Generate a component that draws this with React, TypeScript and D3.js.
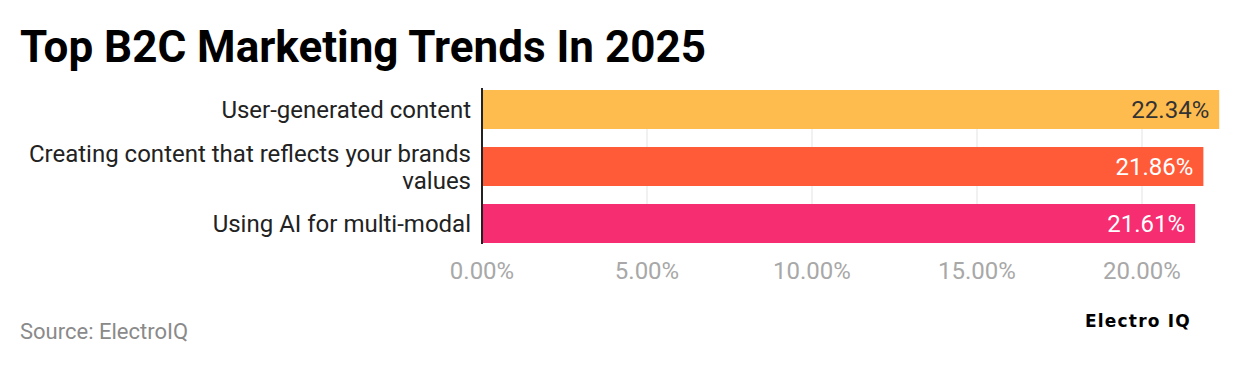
import React from 'react';
import * as d3 from 'd3';

const categories = [
  ['User-generated content'],
  ['Creating content that reflects your brands', 'values'],
  ['Using AI for multi-modal'],
];
const values = [22.34, 21.86, 21.61];
const colors = ['#FFBC4E', '#FF5B39', '#F62D71'];
const valueColors = ['#333333', '#ffffff', '#ffffff'];
const ticks = [0, 5, 10, 15, 20];

const W = 1240;
const H = 366;
const font = 'Roboto, "Noto Sans", sans-serif';

const App: React.FC = () => {
  const x = d3.scaleLinear().domain([0, 20]).range([482, 1142]);
  const y = d3
    .scaleBand<number>()
    .domain(d3.range(categories.length))
    .range([81, 252])
    .paddingInner(0.316)
    .paddingOuter(0.158);
  const bw = y.bandwidth();
  const top = y(0) as number;
  const bottom = (y(categories.length - 1) as number) + bw;

  return (
    <svg width={W} height={H} style={{ position: 'absolute', left: 0, top: 0, fontFamily: font }}>
      <rect width={W} height={H} fill="#fff" />
      <text x={20} y={62} fontSize={44} fontWeight={700} fill="#000">
        Top B2C Marketing Trends In 2025
      </text>

      {ticks.slice(1).map(t => (
        <line key={t} x1={x(t)} x2={x(t)} y1={top} y2={bottom} stroke="#e3e3e3" strokeWidth={1} />
      ))}

      {values.map((v, i) => {
        const by = y(i) as number;
        const lines = categories[i];
        return (
          <g key={i}>
            <rect x={x(0)} y={by} width={x(v) - x(0)} height={bw} fill={colors[i]} />
            <text
              x={x(v) - 10}
              y={by + bw / 2}
              dy="0.36em"
              textAnchor="end"
              fontSize={24}
              fill={valueColors[i]}
            >
              {v.toFixed(2)}%
            </text>
            {lines.map((l, j) => (
              <text
                key={j}
                x={471}
                y={by + bw / 2 + (j - (lines.length - 1) / 2) * 27}
                dy="0.36em"
                textAnchor="end"
                fontSize={24}
                fill="#222"
              >
                {l}
              </text>
            ))}
          </g>
        );
      })}

      <line x1={x(0)} x2={x(0)} y1={top - 2} y2={bottom + 1} stroke="#222" strokeWidth={2} />

      {ticks.map(t => (
        <text key={t} x={x(t)} y={279} textAnchor="middle" fontSize={24} fill="#a8a8a8">
          {t.toFixed(2)}%
        </text>
      ))}

      <text x={20} y={339} fontSize={22} fill="#8a8a8a">
        Source: ElectroIQ
      </text>
      <text
        x={1085}
        y={327}
        fontSize={17}
        fontWeight={700}
        letterSpacing={1.2}
        fill="#000"
        fontFamily="'DejaVu Sans', sans-serif"
      >
        Electro IQ
      </text>
    </svg>
  );
};

export default App;
